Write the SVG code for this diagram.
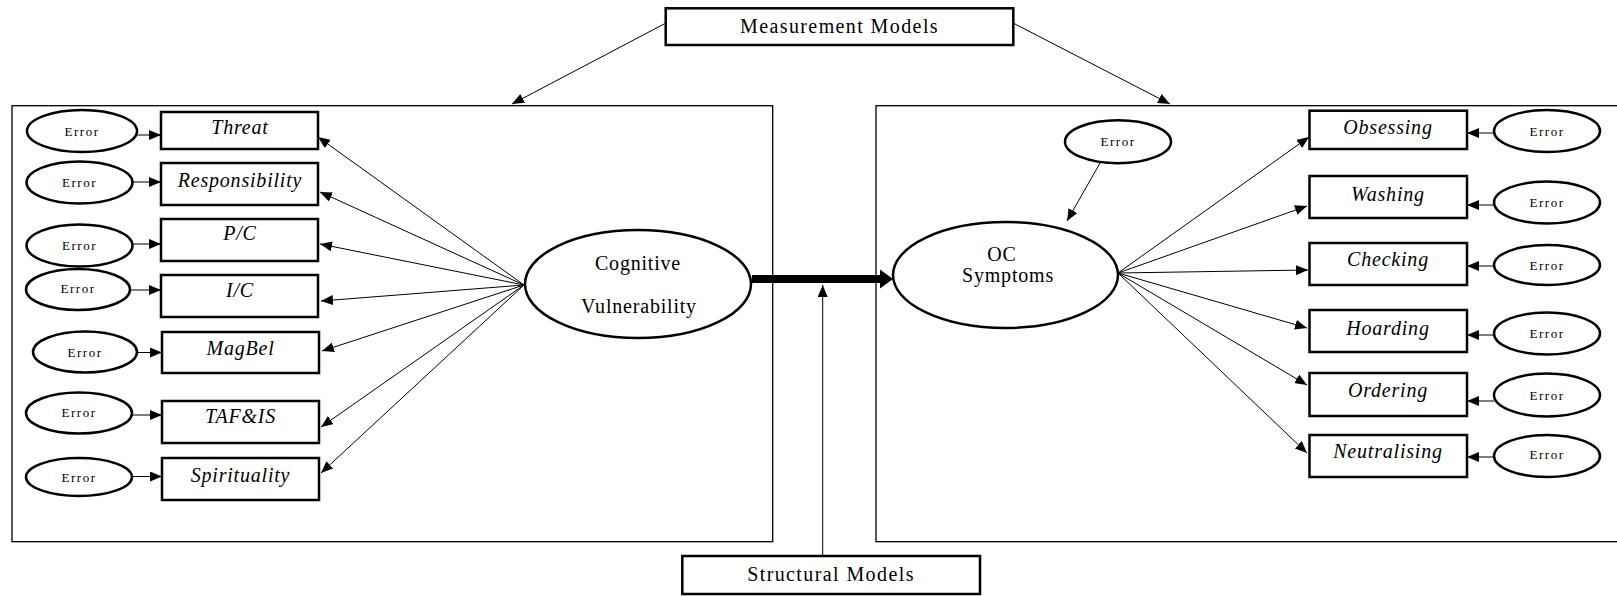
<svg xmlns="http://www.w3.org/2000/svg" width="1617" height="596" viewBox="0 0 1617 596">
<defs>
<marker id="ah" viewBox="0 0 12 10" refX="12" refY="5" markerWidth="12" markerHeight="10" markerUnits="userSpaceOnUse" orient="auto"><path d="M0,0 L12,5 L0,10 z" fill="#000"/></marker>
</defs>
<style>
.frame{fill:none;stroke:#000;stroke-width:1.3}
.box{fill:#fff;stroke:#000;stroke-width:2.5}
.ell{fill:#fff;stroke:#000;stroke-width:2.5}
.con{fill:none;stroke:#000;stroke-width:1;marker-end:url(#ah)}
.err{font-family:"Liberation Serif",serif;font-size:13px;letter-spacing:1.5px;text-anchor:middle}
.var{font-family:"Liberation Serif",serif;font-size:20px;font-style:italic;letter-spacing:0.8px;text-anchor:middle}
.lat{font-family:"Liberation Serif",serif;font-size:20px;letter-spacing:0.8px;text-anchor:middle}
.mod{font-family:"Liberation Serif",serif;font-size:20px;letter-spacing:1.4px;text-anchor:middle}
</style>
<rect width="1617" height="596" fill="#fff"/>
<g id="frames">
<rect class="frame" x="12" y="105.7" width="760.7" height="436"/>
<rect class="frame" x="876" y="105.7" width="760" height="436"/>
</g>
<g id="connectors">
<line class="con" x1="666" y1="23" x2="512" y2="104"/>
<line class="con" x1="1013" y1="23" x2="1170" y2="104"/>
<line class="con" x1="822.7" y1="556" x2="822.7" y2="285"/>
<line x1="752" y1="279" x2="882" y2="279" stroke="#000" stroke-width="8"/>
<polygon points="880,269.5 893,279 880,288.5" fill="#000"/>
<line class="con" x1="524" y1="285" x2="318" y2="137"/>
<line class="con" x1="524" y1="285" x2="320" y2="192"/>
<line class="con" x1="524" y1="285" x2="320" y2="244"/>
<line class="con" x1="524" y1="285" x2="321" y2="301"/>
<line class="con" x1="524" y1="285" x2="322" y2="351"/>
<line class="con" x1="524" y1="285" x2="321" y2="427"/>
<line class="con" x1="524" y1="285" x2="321" y2="473"/>
<line class="con" x1="137" y1="135" x2="161" y2="135"/>
<line class="con" x1="132.5" y1="182" x2="161" y2="182"/>
<line class="con" x1="132.5" y1="244" x2="161" y2="244"/>
<line class="con" x1="130" y1="290" x2="161" y2="290"/>
<line class="con" x1="137" y1="352.5" x2="162" y2="352.5"/>
<line class="con" x1="132" y1="415" x2="162" y2="415"/>
<line class="con" x1="132" y1="476.5" x2="162" y2="476.5"/>
<line class="con" x1="1118" y1="273" x2="1309" y2="137"/>
<line class="con" x1="1118" y1="273" x2="1307" y2="206"/>
<line class="con" x1="1118" y1="273" x2="1308" y2="270"/>
<line class="con" x1="1118" y1="273" x2="1307" y2="328"/>
<line class="con" x1="1118" y1="273" x2="1307" y2="385"/>
<line class="con" x1="1118" y1="273" x2="1307" y2="453"/>
<line class="con" x1="1494" y1="133" x2="1467" y2="133"/>
<line class="con" x1="1494" y1="205" x2="1467" y2="205"/>
<line class="con" x1="1494" y1="266" x2="1467" y2="266"/>
<line class="con" x1="1494" y1="335" x2="1467" y2="335"/>
<line class="con" x1="1494" y1="401" x2="1467" y2="401"/>
<line class="con" x1="1494" y1="457" x2="1467" y2="457"/>
<line class="con" x1="1100" y1="163" x2="1067" y2="221"/>
</g>
<g id="measurement-models"><rect class="box" x="665.7" y="8.3" width="347.6" height="36.7"/><text class="mod" x="839.5" y="33">Measurement Models</text></g>
<g id="structural-models"><rect class="box" x="682.3" y="556" width="297.7" height="38"/><text class="mod" x="831" y="581">Structural Models</text></g>
<g id="cognitive-vulnerability"><ellipse class="ell" cx="638" cy="284" rx="113" ry="54"/><text class="lat" x="638" y="270">Cognitive</text><text class="lat" x="639" y="312.7">Vulnerability</text></g>
<g id="oc-symptoms"><ellipse class="ell" cx="1005.5" cy="275" rx="112.5" ry="53"/><text class="lat" x="1002" y="261">OC</text><text class="lat" x="1008" y="282">Symptoms</text></g>
<g id="oc-error"><ellipse class="ell" cx="1118" cy="141.7" rx="53" ry="21.5"/><text class="err" x="1118" y="146">Error</text></g>
<g id="threat"><rect class="box" x="161" y="112" width="157" height="37"/><text class="var" x="240" y="134">Threat</text></g>
<g id="responsibility"><rect class="box" x="161" y="163" width="157" height="42"/><text class="var" x="240" y="186.7">Responsibility</text></g>
<g id="pc"><rect class="box" x="161" y="219" width="157" height="42"/><text class="var" x="240" y="240">P/C</text></g>
<g id="ic"><rect class="box" x="161" y="275" width="157" height="42"/><text class="var" x="240" y="296.7">I/C</text></g>
<g id="magbel"><rect class="box" x="162" y="332" width="157" height="41"/><text class="var" x="240.5" y="355">MagBel</text></g>
<g id="tafis"><rect class="box" x="162" y="401" width="157" height="42"/><text class="var" x="240.5" y="422.7">TAF&amp;IS</text></g>
<g id="spirituality"><rect class="box" x="162" y="458" width="157" height="42"/><text class="var" x="240.5" y="481.7">Spirituality</text></g>
<g id="error-threat"><ellipse class="ell" cx="82" cy="131" rx="55" ry="21"/><text class="err" x="82" y="135.5">Error</text></g>
<g id="error-responsibility"><ellipse class="ell" cx="79.5" cy="182.5" rx="53" ry="21"/><text class="err" x="79.5" y="187">Error</text></g>
<g id="error-pc"><ellipse class="ell" cx="79.5" cy="245.5" rx="53" ry="21"/><text class="err" x="79.5" y="250">Error</text></g>
<g id="error-ic"><ellipse class="ell" cx="78" cy="289.5" rx="52" ry="20.5"/><text class="err" x="78" y="293">Error</text></g>
<g id="error-magbel"><ellipse class="ell" cx="85" cy="352" rx="52" ry="20.5"/><text class="err" x="85" y="356.5">Error</text></g>
<g id="error-tafis"><ellipse class="ell" cx="79" cy="413" rx="53" ry="20.5"/><text class="err" x="79" y="417">Error</text></g>
<g id="error-spirituality"><ellipse class="ell" cx="79" cy="477" rx="53" ry="19"/><text class="err" x="79" y="481.5">Error</text></g>
<g id="obsessing"><rect class="box" x="1309.5" y="110.7" width="157.5" height="38.3"/><text class="var" x="1388" y="134.3">Obsessing</text></g>
<g id="washing"><rect class="box" x="1309.5" y="176" width="157.5" height="42"/><text class="var" x="1388" y="201">Washing</text></g>
<g id="checking"><rect class="box" x="1309.5" y="243" width="157.5" height="42"/><text class="var" x="1388" y="266">Checking</text></g>
<g id="hoarding"><rect class="box" x="1309.5" y="310" width="157.5" height="42"/><text class="var" x="1388" y="335">Hoarding</text></g>
<g id="ordering"><rect class="box" x="1309.5" y="373" width="157.5" height="43"/><text class="var" x="1388" y="396.7">Ordering</text></g>
<g id="neutralising"><rect class="box" x="1309.5" y="435" width="157.5" height="42"/><text class="var" x="1388" y="458.3">Neutralising</text></g>
<g id="error-obsessing"><ellipse class="ell" cx="1547" cy="131" rx="53" ry="21"/><text class="err" x="1547" y="135.5">Error</text></g>
<g id="error-washing"><ellipse class="ell" cx="1547" cy="202.5" rx="53" ry="21"/><text class="err" x="1547" y="207">Error</text></g>
<g id="error-checking"><ellipse class="ell" cx="1547" cy="265" rx="53" ry="20"/><text class="err" x="1547" y="269.5">Error</text></g>
<g id="error-hoarding"><ellipse class="ell" cx="1547" cy="333.5" rx="53" ry="21"/><text class="err" x="1547" y="338">Error</text></g>
<g id="error-ordering"><ellipse class="ell" cx="1547" cy="395" rx="53" ry="21.5"/><text class="err" x="1547" y="399.5">Error</text></g>
<g id="error-neutralising"><ellipse class="ell" cx="1547" cy="456" rx="53" ry="21"/><text class="err" x="1547" y="458.5">Error</text></g>
</svg>
